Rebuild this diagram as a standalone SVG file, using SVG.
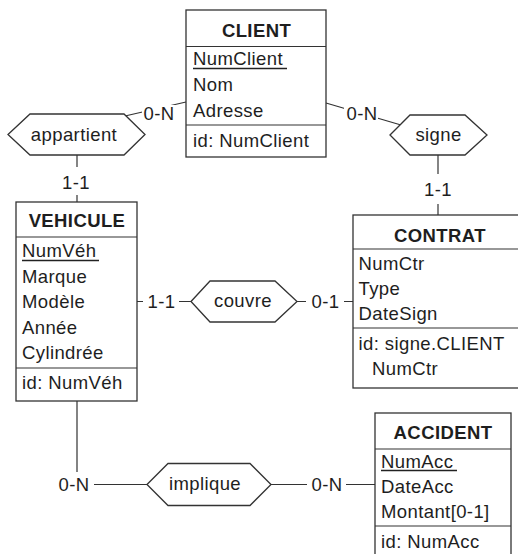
<svg xmlns="http://www.w3.org/2000/svg" width="518" height="554" viewBox="0 0 518 554">
<style>
.b{fill:#fff;stroke:#333;stroke-width:1.3}
.l{fill:none;stroke:#333;stroke-width:1.2}
.u{stroke:#222;stroke-width:1.6}
.bg{fill:#fff;stroke:none}
text{font-family:"Liberation Sans",Arial,sans-serif;font-size:18.5px;letter-spacing:0.4px;fill:#1e1e1e}
.h{font-weight:bold;text-anchor:middle}
.c{text-anchor:middle}
</style>
<rect width="518" height="554" fill="#fff"/>
<g id="connectors">
<line class="l" x1="125" y1="116" x2="186" y2="102"/>
<rect class="bg" x="142" y="105" width="33" height="16"/>
<text class="c" x="159" y="119.5">0-N</text>
<line class="l" x1="326" y1="103" x2="401" y2="125"/>
<rect class="bg" x="344" y="105" width="34" height="16"/>
<text class="c" x="362" y="120">0-N</text>
<line class="l" x1="77" y1="155" x2="77" y2="202"/>
<rect class="bg" x="60" y="167" width="34" height="28"/>
<text class="c" x="76" y="188.5">1-1</text>
<line class="l" x1="438" y1="155" x2="438" y2="215"/>
<rect class="bg" x="421" y="174" width="34" height="30"/>
<text class="c" x="438" y="196">1-1</text>
<line class="l" x1="137" y1="301.5" x2="353" y2="301.5"/>
<rect class="bg" x="143" y="293" width="36" height="17"/>
<text class="c" x="161.5" y="308">1-1</text>
<rect class="bg" x="306" y="293" width="38" height="17"/>
<text class="c" x="325.5" y="308">0-1</text>
<polyline class="l" points="77,400 77,484.5 147,484.5"/>
<rect class="bg" x="54" y="472" width="40" height="26"/>
<text class="c" x="74" y="491">0-N</text>
<line class="l" x1="271" y1="484.5" x2="375" y2="484.5"/>
<rect class="bg" x="307" y="475" width="39" height="19"/>
<text class="c" x="327" y="491">0-N</text>
</g>
<g id="CLIENT">
<rect class="b" x="186" y="10" width="140" height="147"/>
<line class="l" x1="186" y1="46.5" x2="326" y2="46.5"/>
<line class="l" x1="186" y1="125" x2="326" y2="125"/>
<text class="h" x="256.5" y="37">CLIENT</text>
<text x="193" y="65">NumClient</text>
<line class="u" x1="193" y1="68.5" x2="287" y2="68.5"/>
<text x="193" y="91">Nom</text>
<text x="193" y="116.5">Adresse</text>
<text x="193" y="147">id: NumClient</text>
</g>
<g id="appartient">
<polygon class="b" points="8,134.5 30,114 124,114 145,134.5 124,155 30,155"/>
<text class="c" x="74" y="140.5">appartient</text>
</g>
<g id="signe">
<polygon class="b" points="390,135 410,115 465,115 487,135 465,155 410,155"/>
<text class="c" x="438.5" y="140.5">signe</text>
</g>
<g id="VEHICULE">
<rect class="b" x="16" y="202" width="121" height="199"/>
<line class="l" x1="16" y1="237" x2="137" y2="237"/>
<line class="l" x1="16" y1="368" x2="137" y2="368"/>
<text class="h" x="77" y="227">VEHICULE</text>
<text x="22" y="257">NumVéh</text>
<line class="u" x1="22" y1="260.5" x2="99" y2="260.5"/>
<text x="22" y="282.5">Marque</text>
<text x="22" y="308">Modèle</text>
<text x="22" y="333.5">Année</text>
<text x="22" y="359">Cylindrée</text>
<text x="22" y="389">id: NumVéh</text>
</g>
<g id="couvre">
<polygon class="b" points="191,301.5 210,281 275,281 297,301.5 275,322 210,322"/>
<text class="c" x="243" y="307">couvre</text>
</g>
<g id="CONTRAT">
<rect class="b" x="353" y="215" width="175" height="173"/>
<line class="l" x1="353" y1="249" x2="528" y2="249"/>
<line class="l" x1="353" y1="328" x2="528" y2="328"/>
<text class="h" x="440" y="241.5">CONTRAT</text>
<text x="358.5" y="270">NumCtr</text>
<text x="358.5" y="295">Type</text>
<text x="358.5" y="320">DateSign</text>
<text x="358.5" y="349.5">id: signe.CLIENT</text>
<text x="372" y="375">NumCtr</text>
</g>
<g id="implique">
<polygon class="b" points="147,484.5 168,463.5 250,463.5 271,484.5 250,505.5 168,505.5"/>
<text class="c" x="205" y="490">implique</text>
</g>
<g id="ACCIDENT">
<rect class="b" x="375" y="413" width="136" height="150"/>
<line class="l" x1="375" y1="449" x2="511" y2="449"/>
<line class="l" x1="375" y1="526" x2="511" y2="526"/>
<text class="h" x="443" y="439">ACCIDENT</text>
<text x="381" y="467.5">NumAcc</text>
<line class="u" x1="381" y1="470.5" x2="457" y2="470.5"/>
<text x="381" y="493">DateAcc</text>
<text x="381" y="518">Montant[0-1]</text>
<text x="381" y="548">id: NumAcc</text>
</g>
</svg>
